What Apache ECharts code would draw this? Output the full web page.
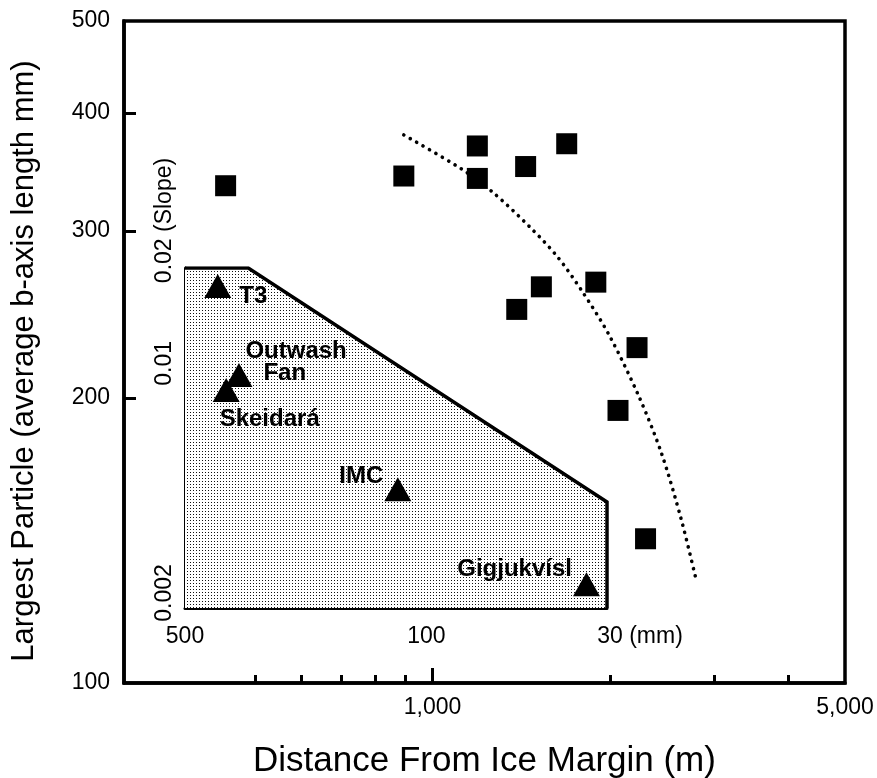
<!DOCTYPE html>
<html>
<head>
<meta charset="utf-8">
<title>Largest Particle vs Distance From Ice Margin</title>
<script src="https://cdn.jsdelivr.net/npm/echarts@6/dist/echarts.min.js"></script>
<style>
  html, body { margin: 0; padding: 0; background: #fff; }
  #chart { width: 877px; height: 778px; }
</style>
</head>
<body>
<div id="chart"></div>
<script>
// main plot: distance from ice margin (m) / largest particle (mm)
const distance = [446, 894, 1191, 1191, 1438, 1688, 1389, 1529, 1891, 2221, 2062, 2296]
const particle = [335, 343, 369, 341, 351, 371, 248, 262, 265, 226, 194, 142]

// dotted trend curve
const trendX = [894, 1119, 1270, 1462, 1627, 1794, 1992, 2235, 2442, 2638, 2793]
const trendY = [379, 349, 329, 303, 282, 259, 233, 201, 175, 149, 129]

// inset: grain size (mm) / slope
const siteNames = ['T3', 'Outwash Fan', 'Skeidará', 'IMC', 'Gigjukvísl']
const siteSize = [402, 349, 380, 121, 34.4]
const siteSlope = [0.0177, 0.00969, 0.00875, 0.00447, 0.00235]

// outline of the shaded field
const fieldSize = [500, 328, 30, 30]
const fieldSlope = [0.02, 0.02, 0.0041, 0.002]

// ticks and labels
const xMinorTicks = [500, 600, 700, 800, 900, 2000, 3000, 4000]
const xMajorTicks = [1000]
const xLabels = [1000, 5000]
const yTicks = [200, 300, 400]
const yLabels = [100, 200, 300, 400, 500]
const insetXTicks = [400, 300, 89, 80, 71, 64, 56, 50, 45, 40]
const insetXLabels = [500, 100, 30]
const insetYTicks = [0.003, 0.004, 0.005, 0.006, 0.007, 0.008, 0.009, 0.01]
const insetYLabels = [0.002, 0.01, 0.02]

const FONT = "'Liberation Sans', Arial, Helvetica, sans-serif"
const near = (a, b) => Math.abs(a - b) / b < 1e-6

// stipple for the shaded field
const dots = document.createElement('canvas')
dots.width = 3
dots.height = 3
const dctx = dots.getContext('2d')
dctx.fillStyle = '#fff'
dctx.fillRect(0, 0, 3, 3)
dctx.fillStyle = '#111'
dctx.fillRect(1, 1, 1, 1)

const labelText = { color: '#000', fontFamily: FONT, fontSize: 23 }
const siteLabel = { color: '#000', fontFamily: FONT, fontSize: 24, fontWeight: 'bold', opacity: 1 }

const siteLabels = [
  { position: 'right', distance: 8, offset: [0, 10] },
  {
    position: [20, -23],
    formatter: '{a|Outwash}\n{b|Fan}',
    rich: {
      a: Object.assign({ lineHeight: 22 }, siteLabel),
      b: Object.assign({ lineHeight: 22, padding: [0, 0, 0, 18] }, siteLabel)
    }
  },
  { position: [7, 29] },
  { position: 'left', distance: 1, offset: [0, -13] },
  { position: 'left', distance: 1, offset: [0, -15] }
]

const options = {
  animation: false,
  backgroundColor: '#fff',
  grid: [
    { left: 124, top: 21, right: 32, bottom: 95, show: true, borderColor: '#000', borderWidth: 3.5, outerBoundsMode: 'none' },
    { left: 185, top: 268, width: 422, height: 340, outerBoundsMode: 'none' }
  ],
  xAxis: [
    {
      gridIndex: 0,
      type: 'log',
      position: 'bottom',
      min: 300,
      max: 5000,
      axisLine: { lineStyle: { color: '#000', width: 3.5 } },
      axisTick: { inside: true, length: 8, customValues: xMinorTicks, lineStyle: { color: '#000', width: 3 } },
      axisLabel: Object.assign({
        customValues: xLabels,
        margin: 13,
        formatter: v => Math.round(v).toLocaleString('en-US')
      }, labelText),
      splitLine: { show: false },
      name: 'Distance From Ice Margin (m)',
      nameLocation: 'middle',
      nameGap: 61,
      nameTextStyle: { color: '#000', fontFamily: FONT, fontSize: 35 }
    },
    {
      gridIndex: 0,
      type: 'log',
      position: 'bottom',
      min: 300,
      max: 5000,
      axisLine: { show: false },
      axisTick: { inside: true, length: 15, customValues: xMajorTicks, lineStyle: { color: '#000', width: 3 } },
      axisLabel: { show: false },
      splitLine: { show: false }
    },
    {
      gridIndex: 1,
      type: 'log',
      position: 'bottom',
      inverse: true,
      min: 30,
      max: 500,
      axisLine: { lineStyle: { color: '#000', width: 3 } },
      axisTick: { inside: true, length: 8, customValues: insetXTicks, lineStyle: { color: '#000', width: 2.5 } },
      axisLabel: Object.assign({
        customValues: insetXLabels,
        margin: 17,
        formatter: v => near(v, 30) ? '{m|30 (mm)}' : String(Math.round(v)),
        rich: { m: Object.assign({ padding: [0, 0, 0, 66] }, labelText) }
      }, labelText),
      splitLine: { show: false }
    }
  ],
  yAxis: [
    {
      gridIndex: 0,
      type: 'log',
      min: 100,
      max: 500,
      axisLine: { lineStyle: { color: '#000', width: 3.5 } },
      axisTick: { inside: true, length: 12, customValues: yTicks, lineStyle: { color: '#000', width: 3 } },
      axisLabel: Object.assign({
        customValues: yLabels,
        margin: 14,
        formatter: v => String(Math.round(v))
      }, labelText),
      splitLine: { show: false },
      name: 'Largest Particle (average b-axis length mm)',
      nameLocation: 'middle',
      nameGap: 84,
      nameTextStyle: { color: '#000', fontFamily: FONT, fontSize: 31, padding: [0, 18, 0, 0] }
    },
    {
      gridIndex: 1,
      type: 'log',
      min: 0.002,
      max: 0.02,
      axisLine: { lineStyle: { color: '#000', width: 3 } },
      axisTick: { inside: true, length: 8, customValues: insetYTicks, lineStyle: { color: '#000', width: 2.5 } },
      axisLabel: Object.assign({
        customValues: insetYLabels,
        rotate: 90,
        margin: 9,
        formatter: v => {
          if (near(v, 0.02)) return '{s|0.02 (Slope)}'
          if (near(v, 0.01)) return '{t|0.01}'
          return '{u|0.002}'
        },
        rich: {
          s: Object.assign({ padding: [0, 0, 0, 95] }, labelText),
          t: Object.assign({ padding: [0, 0, 0, 14] }, labelText),
          u: Object.assign({ padding: [0, 0, 0, 30] }, labelText)
        }
      }, labelText),
      splitLine: { show: false }
    }
  ],
  series: [
    {
      name: 'field',
      type: 'line',
      xAxisIndex: 2,
      yAxisIndex: 1,
      symbol: 'none',
      z: 1,
      lineStyle: { color: '#000', width: 3.5, join: 'miter' },
      areaStyle: { color: { image: dots, repeat: 'repeat' }, opacity: 1 },
      data: fieldSize.map((s, i) => [s, fieldSlope[i]])
    },
    {
      name: 'sites',
      type: 'scatter',
      xAxisIndex: 2,
      yAxisIndex: 1,
      symbol: 'triangle',
      symbolSize: [27, 24],
      z: 3,
      itemStyle: { color: '#000', opacity: 1 },
      label: Object.assign({ show: true, formatter: '{b}' }, siteLabel),
      data: siteNames.map((n, i) => ({
        name: n,
        value: [siteSize[i], siteSlope[i]],
        label: siteLabels[i]
      }))
    },
    {
      name: 'trend',
      type: 'line',
      xAxisIndex: 0,
      yAxisIndex: 0,
      smooth: 0.3,
      symbol: 'none',
      z: 2,
      lineStyle: { color: '#000', width: 3.6, type: [0.1, 7.3], cap: 'round' },
      data: trendX.map((x, i) => [x, trendY[i]])
    },
    {
      name: 'particle',
      type: 'scatter',
      xAxisIndex: 0,
      yAxisIndex: 0,
      symbol: 'rect',
      symbolSize: 21,
      z: 3,
      itemStyle: { color: '#000', opacity: 1 },
      data: distance.map((d, i) => [d, particle[i]])
    }
  ]
}

const chart = echarts.init(document.getElementById('chart'))
chart.setOption(options, true)
</script>
</body>
</html>
